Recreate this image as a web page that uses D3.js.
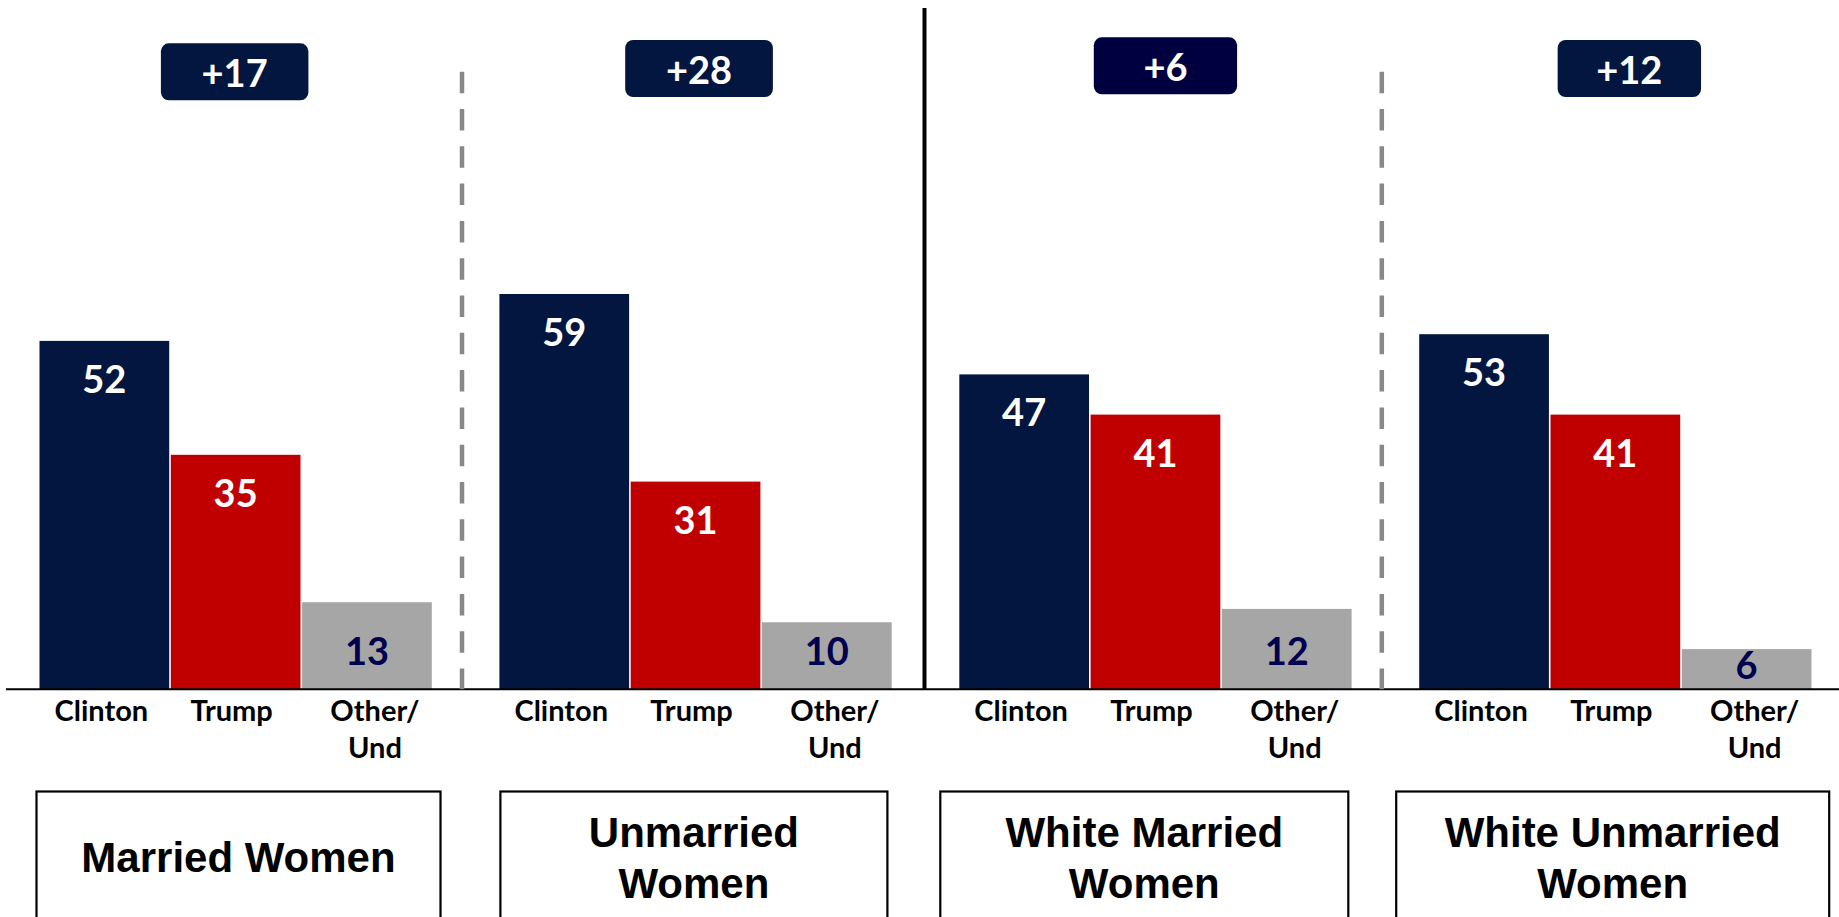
<!DOCTYPE html>
<html>
<head>
<meta charset="utf-8">
<script src="https://cdn.jsdelivr.net/npm/d3@7"></script>
<style>
  html, body { margin: 0; padding: 0; background: #fff; overflow: hidden; }
  svg { display: block; }
</style>
</head>
<body>
<svg id="chart" width="1839" height="917"></svg>
<script>
// ---- data ----
const groups = ["Married Women", "Unmarried Women", "White Married Women", "White Unmarried Women"];
const groupLines = [["Married Women"], ["Unmarried", "Women"], ["White Married", "Women"], ["White Unmarried", "Women"]];
const candidates = ["Clinton", "Trump", "Other/Und"];
const candidateLines = [["Clinton"], ["Trump"], ["Other/", "Und"]];
const clinton = [52, 59, 47, 53];
const trump = [35, 31, 41, 41];
const other = [13, 10, 12, 6];
const margins = ["+17", "+28", "+6", "+12"];

// ---- layout ----
const svg = d3.select("#chart");
const W = 1839;
const navy = "#021640", red = "#C00000", grey = "#A6A6A6";
const barColors = [navy, red, grey];
const labelColors = ["#ffffff", "#ffffff", "#00004f"];
const badgeColors = [navy, navy, "#000040", navy];

const groupStep = 459.9;
const x0 = d3.scaleBand().domain(groups).range([39.5, 39.5 + groupStep * groups.length]).padding(0);
const x1 = d3.scaleBand().domain(candidates).range([0, 392.3]).paddingInner(0.012).paddingOuter(0);
const y = d3.scaleLinear().domain([0, 100]).range([689.3, 19.3]);
const y0 = y(0);

const series = [clinton, trump, other];
const rows = [];
groups.forEach((g, gi) => {
  candidates.forEach((c, ci) => {
    rows.push({ g, gi, c, ci, v: series[ci][gi] });
  });
});

// bars
svg.append("g").selectAll("rect").data(rows).join("rect")
  .attr("x", d => x0(d.g) + x1(d.c))
  .attr("y", d => y(d.v))
  .attr("width", x1.bandwidth())
  .attr("height", d => y0 - y(d.v))
  .attr("fill", d => barColors[d.ci]);

// value labels
svg.append("g").selectAll("text").data(rows).join("text")
  .attr("x", d => x0(d.g) + x1(d.c) + x1.bandwidth() / 2)
  .attr("y", d => d.ci < 2 ? y(d.v) + 52 : Math.max(y0 - 24, y(d.v) + 30))
  .attr("text-anchor", "middle")
  .attr("font-family", "Lato, 'Open Sans', sans-serif")
  .attr("font-weight", 700)
  .attr("font-size", 38)
  .attr("fill", d => labelColors[d.ci])
  .text(d => d.v);

// baseline
svg.append("line")
  .attr("x1", 6).attr("x2", W)
  .attr("y1", y0).attr("y2", y0)
  .attr("stroke", "#000").attr("stroke-width", 2);

// category labels
const catOffset = [-3, -4, 8];
const catG = svg.append("g");
rows.forEach(d => {
  const cx = x0(d.g) + x1(d.c) + x1.bandwidth() / 2 + catOffset[d.ci];
  const t = catG.append("text")
    .attr("x", cx)
    .attr("y", 720.7)
    .attr("text-anchor", "middle")
    .attr("font-family", "Lato, 'Open Sans', sans-serif")
    .attr("font-weight", 700)
    .attr("font-size", 29)
    .attr("fill", "#000");
  candidateLines[d.ci].forEach((ln, li) => {
    t.append("tspan").attr("x", cx)
      .attr("dy", li === 0 ? 0 : 37.6).text(ln);
  });
});

// separators
const gEnd = gi => x0(groups[gi]) + x1(candidates[2]) + x1.bandwidth();
const mid = gi => (gEnd(gi) + x0(groups[gi + 1])) / 2;
[0, 2].forEach(gi => {
  svg.append("line")
    .attr("x1", mid(gi) - 3.6).attr("x2", mid(gi) - 3.6)
    .attr("y1", 71.7).attr("y2", y0)
    .attr("stroke", "#888888").attr("stroke-width", 4.5)
    .attr("stroke-dasharray", "21.5,15.8");
});
svg.append("line")
  .attr("x1", mid(1) - 1).attr("x2", mid(1) - 1)
  .attr("y1", 8).attr("y2", y0)
  .attr("stroke", "#000").attr("stroke-width", 4);

// margin badges
const badgeLayout = [
  { dx: -1, w: 147.5, top: 43.3 },
  { dx: 3.5, w: 147.7, top: 40 },
  { dx: 10, w: 143.3, top: 37.3 },
  { dx: 14, w: 143.4, top: 40 }
];
groups.forEach((g, gi) => {
  const cx = x0(g) + 392.3 / 2 + badgeLayout[gi].dx;
  const b = badgeLayout[gi];
  svg.append("rect")
    .attr("x", cx - b.w / 2).attr("y", b.top)
    .attr("width", b.w).attr("height", 57)
    .attr("rx", 8).attr("ry", 8)
    .attr("fill", badgeColors[gi]);
  svg.append("text")
    .attr("x", cx).attr("y", b.top + 43.5)
    .attr("text-anchor", "middle")
    .attr("font-family", "Lato, 'Open Sans', sans-serif")
    .attr("font-weight", 700)
    .attr("font-size", 38)
    .attr("fill", "#fff")
    .text(margins[gi]);
});

// group label boxes
const boxLayout = [[-3, 401], [1, 388], [-19, 389], [-23, 410]];
groups.forEach((g, gi) => {
  const bx = x0(g) + boxLayout[gi][0];
  const bw = boxLayout[gi][1] - boxLayout[gi][0];
  svg.append("rect")
    .attr("x", bx).attr("y", 791.5)
    .attr("width", bw).attr("height", 200)
    .attr("fill", "none").attr("stroke", "#000").attr("stroke-width", 2.2);
  const lines = groupLines[gi];
  const t = svg.append("text")
    .attr("text-anchor", "middle")
    .attr("font-family", "'Liberation Sans', Arial, sans-serif")
    .attr("font-weight", 700)
    .attr("font-size", 42)
    .attr("fill", "#000");
  lines.forEach((ln, li) => {
    t.append("tspan")
      .attr("x", bx + bw / 2)
      .attr("y", lines.length === 1 ? 871.7 : 847 + li * 50.5)
      .text(ln);
  });
});
</script>
</body>
</html>
